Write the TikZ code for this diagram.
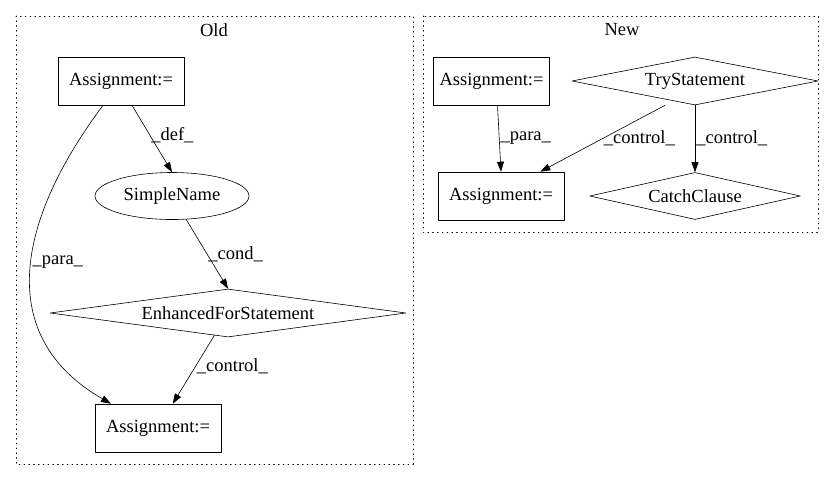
\documentclass[tikz,border=0pt]{standalone}
\usepackage{fontspec}
\setmainfont{Liberation Serif}
\usetikzlibrary{shapes.geometric,arrows.meta}
\tikzset{
	box/.style={draw,rectangle,inner sep=0pt,minimum width=126pt,minimum height=48pt},
	oval/.style={draw,ellipse,inner sep=0pt,minimum width=154pt,minimum height=47pt},
	cond/.style={draw,diamond,aspect=9,inner sep=0pt},
	lbl/.style={right,inner sep=1pt},
	cluster/.style={dash pattern=on .8pt off 4pt,line width=.8pt}
}
\begin{document}
\begin{tikzpicture}[x=1pt,y=-1pt,font=\fontsize{18.5}{20}\selectfont,line cap=round,line join=round,>={Triangle[length=10pt,width=7pt]},semithick]
	\useasboundingbox (0,0) rectangle (835,480);
	% Old
	\draw[cluster] (16,16) rectangle (413,464);
	\node (oldT) at (214,30) {Old};
	\node[box] (asgA) at (121,81) {Assignment:=};
	\node[oval] (simple) at (172,196) {SimpleName};
	\node[cond,minimum width=356pt,minimum height=48pt] (efor) at (228,313) {EnhancedForStatement};
	\node[box] (asgB) at (158,428) {Assignment:=};
	\draw[->] ([xshift=11pt]asgA.south) -- node[lbl,pos=.45]{\_def\_} (simple.north);
	\draw[->] (simple) -- node[lbl,pos=.5]{\_cond\_} (efor.north);
	\draw[->] (efor) -- node[lbl,pos=.45]{\_control\_} (asgB);
	\draw[->] ([xshift=-18pt]asgA.south) .. controls (10,230) and (0,340) .. node[lbl,pos=.45]{\_para\_} ([xshift=-47pt]asgB.north);
	% New
	\draw[cluster] (423,16) rectangle (818,232);
	\node (newT) at (622,30) {New};
	\node[box,minimum width=116pt] (asgC) at (491.5,81) {Assignment:=};
	\node[cond,minimum width=225pt,minimum height=48pt] (tryS) at (695,81) {TryStatement};
	\node[box] (asgD) at (501,196) {Assignment:=};
	\node[cond,minimum width=210pt,minimum height=47pt] (catchC) at (695,196) {CatchClause};
	\draw[->] ([xshift=6pt]asgC.south) -- node[lbl,pos=.5]{\_para\_} (asgD.north);
	\draw[->] ([xshift=-30pt]tryS.south) -- node[lbl,pos=.5]{\_control\_} ([xshift=-24pt]asgD.north east);
	\draw[->] (tryS.south) -- node[lbl,pos=.5]{\_control\_} (catchC.north);
\end{tikzpicture}
\end{document}
